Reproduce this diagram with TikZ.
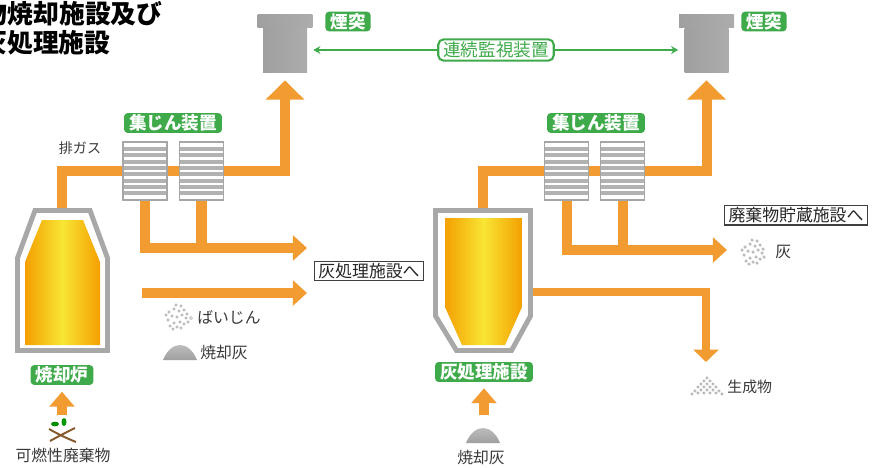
\documentclass[tikz,border=0pt]{standalone}
\usepackage{fontspec}
\setmainfont{Noto Sans CJK JP}
\usetikzlibrary{positioning,arrows.meta,shapes.misc,backgrounds}

\definecolor{flowOrange}{HTML}{F29B30}
\definecolor{tagGreen}{HTML}{3EAA4A}
\definecolor{kilnOrange}{HTML}{F4A000}
\definecolor{kilnYellow}{HTML}{F8E534}
\definecolor{wallGray}{HTML}{A8A8A8}
\definecolor{inkGray}{HTML}{3A3A3A}

\begin{document}
\begin{tikzpicture}[x=0.02cm,y=-0.02cm]
\tikzset{
  flow/.style={draw=flowOrange,line width=5.7pt},
  slimflow/.style={draw=flowOrange,line width=4.5pt},
  upTip/.style={-{Triangle[width=21.5pt,length=11pt]}},
  sideTip/.style={-{Triangle[width=14pt,length=8pt]}},
  feedTip/.style={-{Triangle[width=14pt,length=8.5pt]}},
  downTip/.style={-{Triangle[width=14pt,length=7pt]}},
  tag/.style={fill=tagGreen,text=white,rounded corners=2pt,inner xsep=0.1cm,inner ysep=0.03cm,
    font=\bfseries\fontsize{10}{12}\selectfont},
  note/.style={text=inkGray,inner sep=0pt,font=\fontsize{9}{11}\selectfont},
  dest/.style={draw=black!75,line width=0.8pt,fill=white,text=black!85,inner xsep=0.08cm,inner ysep=0.04cm,
    font=\fontsize{9.6}{12}\selectfont},
  watchbox/.style={draw=tagGreen,line width=1.2pt,rounded corners=3pt,fill=white,text=tagGreen,
    inner xsep=0.1cm,inner ysep=0.05cm,font=\fontsize{10}{12}\selectfont},
  monitor/.style={draw=tagGreen,line width=1.3pt,{Stealth[length=4pt,width=4.5pt]}-{Stealth[length=4pt,width=4.5pt]}},
  stack/.style={inner sep=0pt,minimum width=0.88cm,minimum height=0.88cm,
    left color=gray!75,middle color=gray!30,right color=gray!65},
  stackcap/.style={stack,minimum width=1.1cm,minimum height=0.26cm},
  collector/.style={chamfered rectangle,chamfered rectangle corners=north east,
    chamfered rectangle xsep=0.1cm,chamfered rectangle ysep=0.1cm,
    draw=gray!70,line width=1pt,fill=white,inner sep=0pt,minimum width=0.88cm,minimum height=1.16cm,
    path picture={\foreach \k in {0,...,7}{
      \fill[gray!60] ([yshift=-0.1cm-\k*0.127cm]path picture bounding box.north west) rectangle ++(0.88cm,-0.08cm);}}},
  wall/.style={draw=wallGray,line width=2.8pt,fill=white,line join=miter},
  kiln/.style={left color=kilnOrange,right color=kilnOrange,middle color=kilnYellow},
  dust/.pic={\foreach \p in {(0,0),(5,-2),(-5,-1),(2,-6),(-3,-8),(7,-7),(-8,-5),(9,1),(-9,3),(3,5),(-3,6),
      (7,7),(-7,9),(0,10),(4,-11),(-1,-12),(10,-3),(-11,-2),(11,5),(4,11),(-4,12)}
      \draw[gray!70,line width=0.35pt] \p circle[radius=1.3];},
  pile/.pic={\foreach \p in {(0,-8),(-3,-5),(3,-5),(0,-2),(-6,-2),(6,-2),(-3,1),(3,1),(-9,1),(9,1),
      (0,4),(-6,4),(6,4),(-12,5),(12,5),(-3,7),(3,7),(-9,7),(9,7),(-15,8),(15,8)}
      \draw[gray!70,line width=0.35pt] \p circle[radius=1.2];},
  mound/.pic={\shade[top color=gray!45,bottom color=gray!75] (-17,8) .. controls (-9,-12) and (9,-12) .. (17,8) -- cycle;},
  sprout/.pic={\draw[brown!70!black,line width=1.1pt] (-13,-1) .. controls (-4,4) and (4,8) .. (14,12);
    \draw[brown!70!black,line width=1.1pt] (-12,11) .. controls (-3,6) and (5,2) .. (13,-2);
    \fill[green!55!black] (-7,-6) ellipse[x radius=4,y radius=2.3];
    \fill[green!60!black] (2,-8) ellipse[x radius=2.5,y radius=4];}
}
\useasboundingbox (0,0) rectangle (875,467);

% heading, clipped at the left edge
\node[anchor=west,inner sep=0pt,font=\bfseries\fontsize{14.7}{17}\selectfont] (title1) at (-18.5,14) {物焼却施設及び};
\node[anchor=west,inner sep=0pt,font=\bfseries\fontsize{14.7}{17}\selectfont] (title2) at (-19,43) {灰処理施設};

% stacks and monitoring
\node[stack] (stackL) at (285,50) {};
\node[stackcap,above=0pt of stackL] (capL) {};
\node[stack] (stackR) at (706.5,50) {};
\node[stackcap,above=0pt of stackR] (capR) {};
\node[tag] (smokeL) at (348,21.5) {煙突};
\node[tag] (smokeR) at (764,21.5) {煙突};
\draw[monitor,shorten <=0.12cm,shorten >=0.12cm] (stackL.east) -- (stackR.west);
\node[watchbox] (watch) at (496,50) {連続監視装置};

% incinerator
\draw[wall] (35,210.5) -- (90,210.5) -- (107.5,258) -- (107.5,350.5) -- (17.5,350.5) -- (17.5,258) -- cycle;
\shade[kiln] (42,220) -- (83,220) -- (100,262) -- (100,345) -- (25,345) -- (25,262) -- cycle;
\coordinate (kilnTop) at (62,208);
\node[tag] (kilnTag) at (62,375) {焼却炉};

% ash plant
\draw[wall] (435.5,210.5) -- (530.5,210.5) -- (530.5,316) -- (511.5,350.5) -- (456.5,350.5) -- (435.5,316) -- cycle;
\shade[kiln] (445,218) -- (522,218) -- (522,307) -- (505,345) -- (462,345) -- (445,307) -- cycle;
\coordinate (plantTop) at (483,208);
\coordinate (plantSide) at (531,292);
\node[tag] (plantTag) at (484,372) {灰処理施設};

% dust collectors
\node[collector] (dustL1) at (145,171) {};
\node[collector] (dustL2) at (201.5,171) {};
\node[tag] (dustTagL) at (173,123) {集じん装置};
\node[collector] (dustR1) at (566.5,171) {};
\node[collector] (dustR2) at (622.5,171) {};
\node[tag] (dustTagR) at (596,123) {集じん装置};

% destinations
\node[dest] (toAshPlant) at (369,271) {灰処理施設へ};
\node[dest] (toStore) at (796,215) {廃棄物貯蔵施設へ};
\coordinate (ashInL) at (307,248);
\coordinate (kilnAsh) at (142,293);
\coordinate (ashInL2) at (307,293);
\coordinate (storeIn) at (727,250);
\coordinate (productIn) at (706,362);
\coordinate (wasteIn) at (62,415);
\coordinate (ashFeed) at (484,415);

% labels and icons
\node[note,font=\fontsize{8}{10}\selectfont] (gasLbl) at (80,148) {排ガス};
\pic at (177,317) {dust};
\draw[gray!70,line width=0.35pt] (191,318) circle[radius=1.5];
\node[note,anchor=west] (flyLbl) at (197,317) {ばいじん};
\pic at (180,352) {mound};
\node[note,anchor=west] (ashLbl) at (200,352) {焼却灰};
\pic at (753,252) {dust};
\node[note,anchor=west] (ashR) at (775,252) {灰};
\pic at (707,386) {pile};
\node[note,anchor=west,font=\fontsize{8.5}{10}\selectfont] (prodLbl) at (727,387) {生成物};
\pic at (483,435) {mound};
\node[note] (ashBelow) at (481,457) {焼却灰};
\pic at (62,430) {sprout};
\node[note] (wasteLbl) at (63,455) {可燃性廃棄物};

\begin{scope}[on background layer]
  \fill[white] (0,0) rectangle (875,467);
  % flue gas to the stacks
  \draw[flow,upTip] (kilnTop) |- (dustL1.center) -- (dustL2.center) -| ([yshift=-0.16cm]stackL.south);
  \draw[flow,upTip] (plantTop) |- (dustR1.center) -- (dustR2.center) -| ([yshift=-0.16cm]stackR.south);
  % fly ash and residues
  \draw[flow,sideTip] (dustL1.south) |- (ashInL);
  \draw[flow] (dustL2.south) -- (dustL2.south |- ashInL);
  \draw[flow,sideTip] (kilnAsh) -- (ashInL2);
  \draw[flow,sideTip] (dustR1.south) |- (storeIn);
  \draw[flow] (dustR2.south) -- (dustR2.south |- storeIn);
  \draw[slimflow,downTip] (plantSide) -| (productIn);
  % feeds
  \draw[flow,feedTip] (wasteIn) -- ([yshift=-0.13cm]kilnTag.south);
  \draw[flow,feedTip] (ashFeed) -- ([yshift=-0.12cm]plantTag.south);
\end{scope}
\end{tikzpicture}
\end{document}
